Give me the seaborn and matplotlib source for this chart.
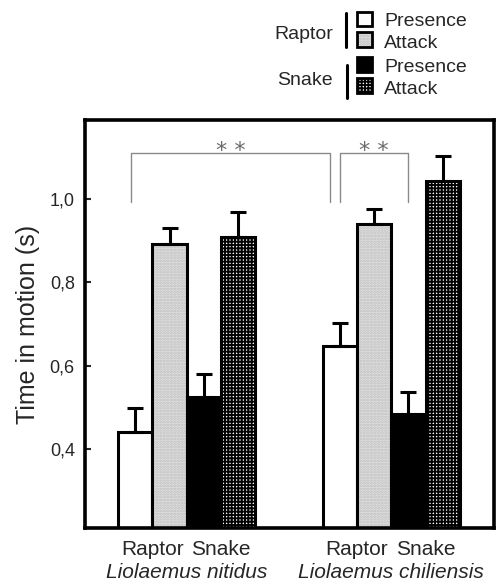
import numpy as np
import pandas as pd
import matplotlib
matplotlib.use("Agg")
import matplotlib.pyplot as plt
from matplotlib.patches import Rectangle
from matplotlib.lines import Line2D
from matplotlib.colors import to_rgba
import seaborn as sns

# ---- data ----
species = ["Liolaemus nitidus", "Liolaemus chiliensis"]
conditions = ["Raptor Presence", "Raptor Attack", "Snake Presence", "Snake Attack"]
means_nitidus = [0.441, 0.892, 0.525, 0.909]
means_chiliensis = [0.647, 0.940, 0.484, 1.043]
err_nitidus = [0.057, 0.038, 0.055, 0.060]
err_chiliensis = [0.055, 0.036, 0.053, 0.060]
ytick_values = [0.4, 0.6, 0.8, 1.0]
ytick_labels = ["0,4", "0,6", "0,8", "1,0"]
predators = ["Raptor", "Snake"]
legend_states = ["Presence", "Attack"]
sig_label = "* *"
bracket_low, bracket_high = 0.993, 1.110

sns.set_style("white")
plt.rcParams["font.family"] = ["Liberation Sans", "DejaVu Sans"]
plt.rcParams["hatch.linewidth"] = 1.35

df = pd.DataFrame({
    "species": np.repeat(species, len(conditions)),
    "condition": conditions * len(species),
    "time": means_nitidus + means_chiliensis,
    "err": err_nitidus + err_chiliensis,
})

fig = plt.figure(figsize=(5.0, 5.81), dpi=100)
ax = fig.add_axes([0.169, 0.0904, 0.818, 0.7039])

palette = {"Raptor Presence": "white", "Raptor Attack": "#e2e2e2",
           "Snake Presence": "black", "Snake Attack": "white"}
sns.barplot(data=df, x="species", y="time", hue="condition", order=species,
            hue_order=conditions, palette=palette, width=0.67, errorbar=None,
            edgecolor="black", linewidth=2.2, legend=False, saturation=1, ax=ax)

styles = {
    "Raptor Presence": dict(face="white", hatch=None, hc=None),
    "Raptor Attack": dict(face="#e4e4e4", hatch="......", hc="#bcbcbc"),
    "Snake Presence": dict(face="black", hatch=None, hc=None),
    "Snake Attack": dict(face="white", hatch="+++++", hc="black"),
}


def style_patch(p, st):
    p.set_facecolor(st["face"])
    p.set_edgecolor("black")
    if st["hatch"]:
        p.set_hatch(st["hatch"])
        try:
            p.set_hatchcolor(st["hc"])
        except AttributeError:
            p._hatch_color = to_rgba(st["hc"])


centers = {}
for cond, cont in zip(conditions, ax.containers):
    for sp, p in zip(species, cont.patches):
        style_patch(p, styles[cond])
        cx = p.get_x() + p.get_width() / 2
        centers[(sp, cond)] = (cx, p.get_width())
        row = df[(df.species == sp) & (df.condition == cond)].iloc[0]
        ax.errorbar(cx, row.time, yerr=[[0], [row.err]], fmt="none",
                    ecolor="black", elinewidth=2.2, capsize=5.5, capthick=2.2,
                    zorder=1)

ax.set_ylim(0.21, 1.19)
ax.set_xlim(-0.5, 1.5)
ax.set_yticks(ytick_values)
ax.set_yticklabels(ytick_labels, fontsize=13)
ax.tick_params(axis="y", direction="in", length=4, width=1.5, pad=7, left=True)
ax.set_ylabel("Time in motion (s)", fontsize=18, labelpad=7)

# x labels: predators (major), species (minor)
major_pos, major_lab = [], []
for sp in species:
    for i, pred in enumerate(predators):
        c1, w = centers[(sp, conditions[2 * i])]
        c2, _ = centers[(sp, conditions[2 * i + 1])]
        major_pos.append((c1 + c2) / 2)
        major_lab.append(pred)
ax.set_xticks(major_pos)
ax.set_xticklabels(major_lab, fontsize=15)
ax.set_xticks(range(len(species)), minor=True)
ax.set_xticklabels(species, minor=True, fontsize=15, style="italic")
ax.tick_params(axis="x", which="major", length=0, pad=8)
ax.tick_params(axis="x", which="minor", length=0, pad=25)
ax.set_xlabel("")

for s in ax.spines.values():
    s.set_linewidth(2.6)
    s.set_color("black")

# significance brackets
grey = "#8a8a8a"
b1_l = centers[(species[0], conditions[0])][0] - 0.02
b1_r = centers[(species[1], conditions[0])][0] - 0.05
b2_l = centers[(species[1], conditions[0])][0]
b2_r = centers[(species[1], conditions[2])][0]
for l, r in [(b1_l, b1_r), (b2_l, b2_r)]:
    ax.plot([l, l, r, r], [bracket_low, bracket_high, bracket_high, bracket_low],
            color=grey, lw=1.0, zorder=3)
    ax.text((l + r) / 2, bracket_high - 0.02, sig_label, ha="center", va="bottom",
            fontsize=16, color="#6a6a6a", family="DejaVu Sans")

# ---- custom legend (figure pixel coordinates, top-left origin) ----
W, H = 500, 581


def fx(px):
    return px / W


def fy(py):
    return 1 - py / H


legend_rows = [
    ("Raptor Presence", 12, 26), ("Raptor Attack", 32, 47),
    ("Snake Presence", 57, 72), ("Snake Attack", 78, 93),
]
baselines = [26, 48, 71.5, 94]
for (cond, top, bot), base in zip(legend_rows, baselines):
    st = styles[cond]
    r = Rectangle((fx(357), fy(bot)), fx(372) - fx(357), fy(top) - fy(bot),
                  transform=fig.transFigure, facecolor=st["face"],
                  edgecolor="black", linewidth=2.0)
    if st["hatch"]:
        r.set_hatch(st["hatch"])
        try:
            r.set_hatchcolor(st["hc"])
        except AttributeError:
            r._hatch_color = to_rgba(st["hc"])
    fig.add_artist(r)
    fig.text(fx(384), fy(base), cond.split()[1], fontsize=14, ha="left",
             va="baseline")

for pred, base, (t, b), x in [(predators[0], 39, (13, 47), 345.5),
                              (predators[1], 85, (65, 98), 346.5)]:
    fig.add_artist(Line2D([fx(x), fx(x)], [fy(t), fy(b)], transform=fig.transFigure,
                          color="black", lw=2.2))
    fig.text(fx(333), fy(base), pred, fontsize=14, ha="right", va="baseline")

fig.savefig("out.png", dpi=100)
